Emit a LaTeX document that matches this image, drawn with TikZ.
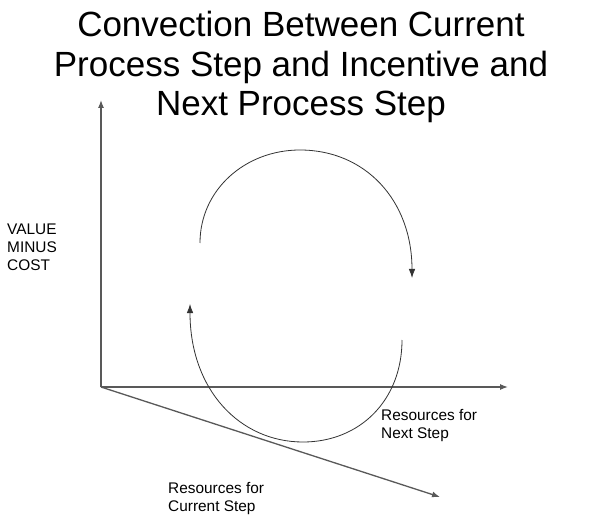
\documentclass[tikz,border=0pt]{standalone}
\usepackage{fontspec}
\setmainfont{Liberation Sans}
\usetikzlibrary{arrows.meta}
\begin{document}
\begin{tikzpicture}[x=1pt,y=1pt,
  axis/.style={draw=black!65,line width=1.3pt,-{Latex[length=8pt,width=6pt]}},
  flow/.style={draw=black!80,line width=0.8pt,-{Latex[length=9pt,width=6.5pt]}},
  title/.style={font=\fontsize{35}{39.5}\selectfont,align=center,inner sep=0pt},
  lbl/.style={font=\fontsize{15.4}{17.8}\selectfont,align=left,inner sep=0pt,anchor=north west}]
\useasboundingbox (0,0) rectangle (601,514);
\fill[white] (0,0) rectangle (601,514);
\coordinate (O) at (101,127);
\coordinate (ytop) at (101,414);
\coordinate (xend) at (508,127);
\coordinate (zend) at (440,17);
\draw[axis] (O) -- (ytop);
\draw[axis] (O) -- (xend);
\draw[axis] (O) -- (zend);
\coordinate (u1) at (200,271);
\coordinate (u2) at (300,364);
\coordinate (u3) at (412,236);
\draw[flow] (u1) .. controls (200,324) and (245,364) .. (u2)
  .. controls (365,364) and (412,314) .. (u3);
\coordinate (l1) at (402,174);
\coordinate (l2) at (303,72);
\coordinate (l3) at (190,210);
\draw[flow] (l1) .. controls (402,114) and (360,72) .. (l2)
  .. controls (240,72) and (190,124) .. (l3);
\node[title,anchor=north] (t) at (301,503) {Convection Between Current\\Process Step and Incentive and\\Next Process Step};
\node[lbl] (vmc) at (7,290) {VALUE\\MINUS\\COST};
\node[lbl] (rn) at (381,105) {Resources for\\Next Step};
\node[lbl] (rc) at (168,32) {Resources for\\Current Step};
\end{tikzpicture}
\end{document}
